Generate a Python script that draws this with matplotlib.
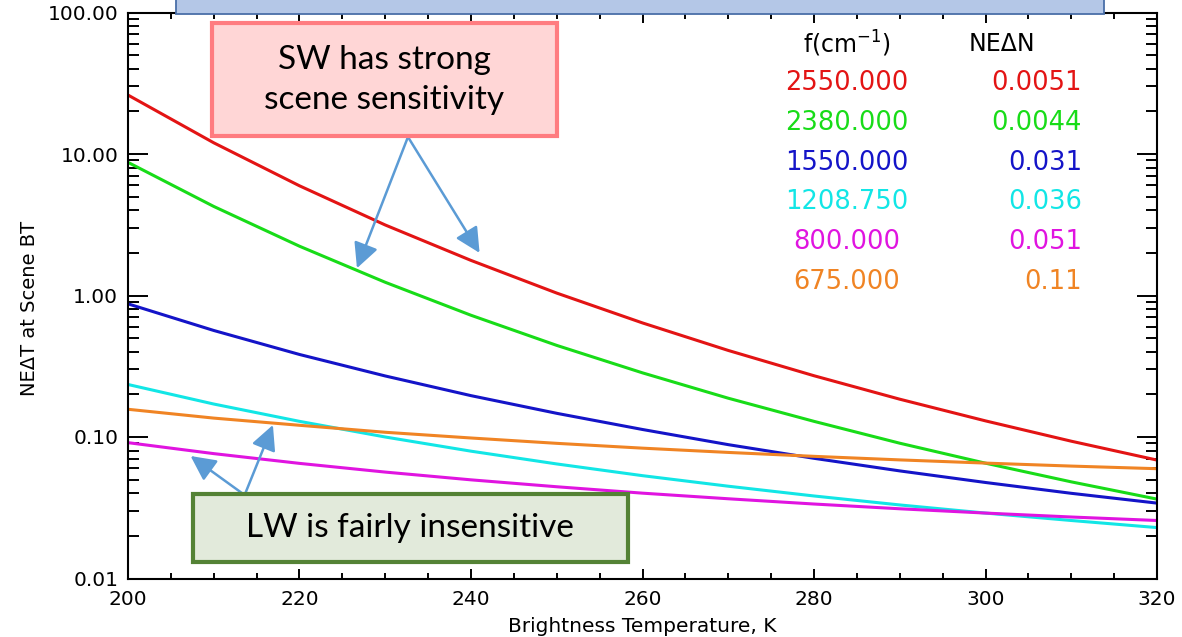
import matplotlib
matplotlib.use('Agg')
import matplotlib.pyplot as plt
from matplotlib.patches import Rectangle
from matplotlib.ticker import MultipleLocator, LogLocator, FormatStrFormatter, NullFormatter

W, H = 1182, 637

# scene brightness temperature (K)
temp = [200, 210, 220, 230, 240, 250, 260, 270, 280, 290, 300, 310, 320]

# NEdT at scene BT for each channel
neat_2550 = [26.1, 12.0, 5.96, 3.15, 1.77, 1.04, 0.640, 0.409, 0.271, 0.185, 0.130, 0.0934, 0.0687]
neat_2380 = [8.73, 4.26, 2.23, 1.24, 0.725, 0.444, 0.284, 0.188, 0.129, 0.0904, 0.0653, 0.0482, 0.0364]
neat_1550 = [0.873, 0.566, 0.383, 0.270, 0.196, 0.147, 0.113, 0.0883, 0.0707, 0.0576, 0.0477, 0.0400, 0.0341]
neat_1208 = [0.235, 0.171, 0.129, 0.100, 0.0794, 0.0645, 0.0533, 0.0449, 0.0383, 0.0331, 0.0290, 0.0257, 0.0229]
neat_800 = [0.0912, 0.0763, 0.0651, 0.0565, 0.0498, 0.0445, 0.0401, 0.0366, 0.0336, 0.0311, 0.0290, 0.0272, 0.0257]
neat_675 = [0.157, 0.136, 0.121, 0.108, 0.0984, 0.0902, 0.0834, 0.0778, 0.0730, 0.0689, 0.0654, 0.0623, 0.0597]

freq_labels = ['2550.000', '2380.000', '1550.000', '1208.750', '800.000', '675.000']
nedn_labels = ['0.0051', '0.0044', '0.031', '0.036', '0.051', '0.11']

series = [neat_2550, neat_2380, neat_1550, neat_1208, neat_800, neat_675]
colors = ['#e31414', '#18dc18', '#1414c8', '#12e6e6', '#e014e0', '#f08424']


def fx(x):
    return x / W


def fy(y):
    return 1 - y / H


fig = plt.figure(figsize=(W / 100, H / 100), dpi=100)
ax = fig.add_axes([fx(128), fy(578.5), fx(1157 - 128), (578.5 - 12.5) / H])

for vals, c in zip(series, colors):
    ax.plot(temp, vals, color=c, lw=2.2, solid_capstyle='butt')

ax.set_yscale('log')
ax.set_xlim(200, 320)
ax.set_ylim(0.01, 100)

ax.xaxis.set_major_locator(MultipleLocator(20))
ax.xaxis.set_minor_locator(MultipleLocator(5))
ax.yaxis.set_major_locator(LogLocator(base=10))
ax.yaxis.set_minor_locator(LogLocator(base=10, subs=range(2, 10)))
ax.yaxis.set_major_formatter(FormatStrFormatter('%.2f'))
ax.yaxis.set_minor_formatter(NullFormatter())

ax.tick_params(which='both', direction='in', top=True, right=True,
               width=1.4, color='black', labelsize=14.5)
ax.tick_params(axis='x', which='major', length=7, pad=8)
ax.tick_params(axis='x', which='minor', length=4)
ax.tick_params(axis='y', which='major', length=14.5, pad=7)
ax.tick_params(axis='y', which='minor', length=8)
for s in ax.spines.values():
    s.set_linewidth(1.5)

fig.text(fx(642), fy(627), 'Brightness Temperature, K', ha='center', va='center', fontsize=14.5)
fig.text(fx(30), fy(308), 'NE\u0394T at Scene BT', ha='center', va='center',
         rotation=90, fontsize=14)

# channel table
fig.text(fx(847), fy(44), 'f(cm$^{-1}$)', ha='center', va='center', fontsize=17)
fig.text(fx(1002), fy(44), 'NE\u0394N', ha='center', va='center', fontsize=17)
for i, (f, n, c) in enumerate(zip(freq_labels, nedn_labels, colors)):
    y = 83 + 39.8 * i
    fig.text(fx(847), fy(y), f, ha='center', va='center', fontsize=18.5, color=c)
    fig.text(fx(1082), fy(y), n, ha='right', va='center', fontsize=18.5, color=c)

# title box running off the top edge
fig.add_artist(Rectangle((fx(176), fy(13.5)), fx(1104 - 176), 30 / H,
                         transform=fig.transFigure, facecolor='#b4c7e7',
                         edgecolor='#4a6fa8', lw=1.3, zorder=10))

# callout boxes
fig.add_artist(Rectangle((fx(212), fy(136)), fx(557 - 212), 113 / H,
                         transform=fig.transFigure, facecolor='#ffd6d6',
                         edgecolor='#ff7c80', lw=3, zorder=10))
fig.text(fx(384.5), fy(80), 'SW has strong\nscene sensitivity', ha='center', va='center',
         fontsize=24, family='Lato', linespacing=1.45, zorder=11)

fig.add_artist(Rectangle((fx(193), fy(562)), fx(628 - 193), 68 / H,
                         transform=fig.transFigure, facecolor='#e2eadb',
                         edgecolor='#548235', lw=3, zorder=10))
fig.text(fx(410), fy(528), 'LW is fairly insensitive', ha='center', va='center',
         fontsize=24, family='Lato', zorder=11)

arrow = dict(arrowstyle='-|>,head_length=0.8,head_width=0.4', mutation_scale=19,
             lw=1.8, color='#5b9bd5', shrinkA=0, shrinkB=0)
for tip in [(226.7, 1.56), (241.0, 2.0)]:
    ax.annotate('', xy=tip, xytext=(232.65, 13.2), arrowprops=arrow,
                annotation_clip=False, zorder=12)
for tip in [(207.3, 0.0734), (216.9, 0.1216)]:
    ax.annotate('', xy=tip, xytext=(213.6, 0.0389), arrowprops=arrow,
                annotation_clip=False, zorder=12)

fig.savefig('out.png', dpi=100)
